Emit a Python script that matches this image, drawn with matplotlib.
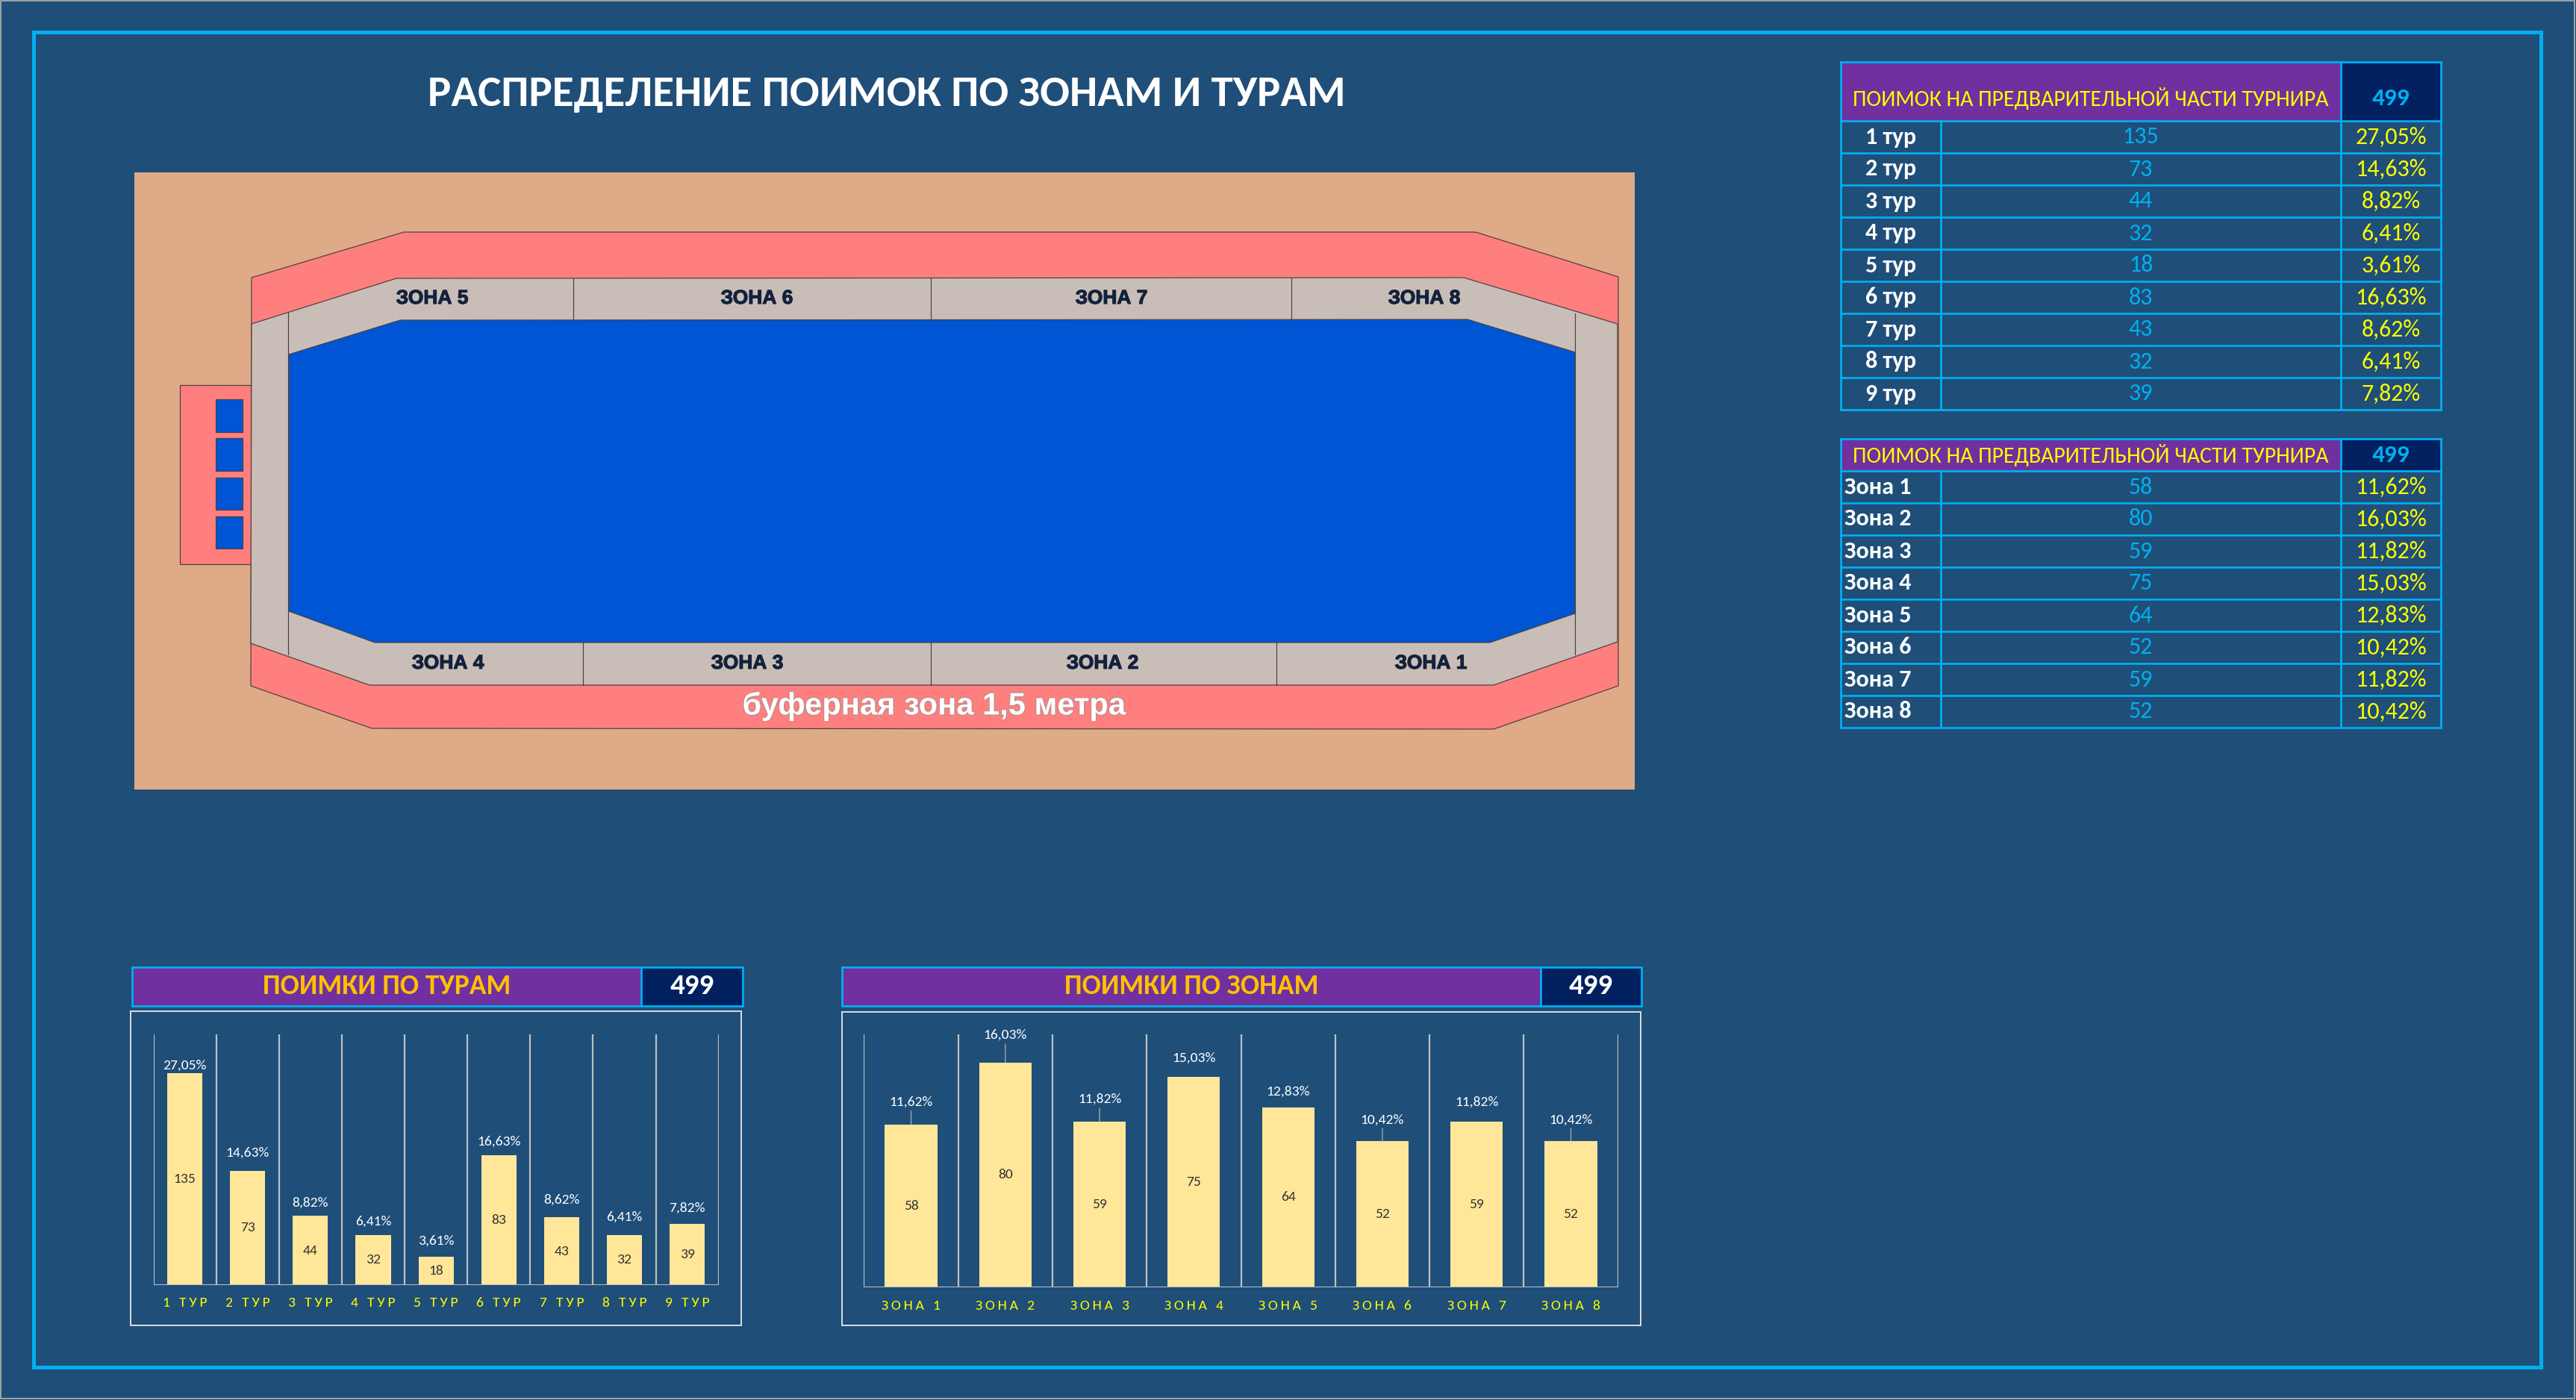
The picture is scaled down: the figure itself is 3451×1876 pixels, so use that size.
import numpy as np
import matplotlib
matplotlib.use('Agg')
import matplotlib.pyplot as plt
from matplotlib.patches import Rectangle, Polygon
import matplotlib.patheffects as pe
import matplotlib.font_manager as fm
from matplotlib.ft2font import FT2Font

# --- data ---
tour_names = ['1 тур', '2 тур', '3 тур', '4 тур', '5 тур', '6 тур', '7 тур', '8 тур', '9 тур']
tour_ticks = ['1 ТУР', '2 ТУР', '3 ТУР', '4 ТУР', '5 ТУР', '6 ТУР', '7 ТУР', '8 ТУР', '9 ТУР']
tour_catches = [135, 73, 44, 32, 18, 83, 43, 32, 39]

zone_names = ['Зона 1', 'Зона 2', 'Зона 3', 'Зона 4', 'Зона 5', 'Зона 6', 'Зона 7', 'Зона 8']
zone_ticks = ['ЗОНА 1', 'ЗОНА 2', 'ЗОНА 3', 'ЗОНА 4', 'ЗОНА 5', 'ЗОНА 6', 'ЗОНА 7', 'ЗОНА 8']
zone_catches = [58, 80, 59, 75, 64, 52, 59, 52]

total = sum(tour_catches)

# label gaps above bars (px) and which zone labels get a leader line
tour_gap = [11, 24, 18, 18, 21, 18, 24, 24, 21]
zone_gap = [30, 37, 30, 25, 21, 29, 26, 29]
zone_leader = [True, True, True, False, False, True, False, True]

# --- colours ---
BG = '#1F4E79'
CYAN = '#00B0F0'
PURPLE = '#7030A0'
NAVY = '#002060'
YELLOW = '#FFFF00'
ORANGE = '#FFC000'
BAR = '#FFE699'
GRID = '#BFBFBF'
TAN = '#DFAA88'
RED = '#FF7F7F'
STONE = '#C9BEB7'
WATER = '#0055D4'
EDGE = '#4A4040'


def has_cyr(name, weight='normal'):
    try:
        path = fm.findfont(fm.FontProperties(family=name, weight=weight), fallback_to_default=False)
        return ord('П') in FT2Font(path).get_charmap()
    except Exception:
        return False


CAL = next((f for f in ['Carlito', 'Lato', 'Roboto', 'Open Sans'] if has_cyr(f) and has_cyr(f, 'bold')), 'DejaVu Sans')
CALF = [CAL, 'DejaVu Sans']
ARF = ['Liberation Sans', 'DejaVu Sans']

W, H = 3451, 1876
DPI = 100
PX = 72 / DPI  # points per pixel

fig = plt.figure(figsize=(W / DPI, H / DPI), dpi=DPI, facecolor=BG)
bg = fig.add_axes([0, 0, 1, 1])
bg.set_xlim(0, W)
bg.set_ylim(H, 0)
bg.axis('off')


def rect(x0, y0, x1, y1, fc='none', ec='none', lw=0, z=1):
    bg.add_patch(Rectangle((x0, y0), x1 - x0, y1 - y0, facecolor=fc, edgecolor=ec,
                           linewidth=lw * PX, zorder=z))


def poly(pts, fc, z=2):
    bg.add_patch(Polygon(pts, closed=True, facecolor=fc, edgecolor=EDGE, linewidth=1.2 * PX, zorder=z))


def txt(x, y, s, size, color, weight='normal', ha='center', fam=None, **kw):
    bg.text(x, y, s, fontsize=size, color=color, fontweight=weight, ha=ha, va='center',
            family=fam or CALF, zorder=10, **kw)


def pct(v):
    return f'{v / total * 100:.2f}%'.replace('.', ',')


def spaced(s):
    # wide letter spacing like the Excel axis labels
    return '\u2009'.join(s)


# frames
rect(1, 1, W - 2, H - 2, ec='#A0A0A0', lw=2, z=0)
rect(44.5, 43, 3404, 1832, ec=CYAN, lw=5, z=0)

# title
txt(1188, 126, 'РАСПРЕДЕЛЕНИЕ ПОИМОК ПО ЗОНАМ И ТУРАМ', 42.5, 'white', 'bold')

# --- pond scheme ---
rect(180, 231, 2190, 1058, fc=TAN, z=1)
poly([(337, 372), (541, 311), (1977, 311), (2168, 371), (2168, 919), (2001, 977), (498, 976), (336, 919)], RED)
poly([(337, 434), (531, 373), (1961, 372), (2167, 434), (2167, 860), (2001, 918), (495, 918), (336, 862)], STONE, z=3)
poly([(387, 475), (536, 429), (1966, 428), (2110, 472), (2110, 822), (1996, 861), (502, 861), (387, 819)], WATER, z=4)
for x in [768, 1247, 1730]:
    bg.plot([x, x], [373, 429], color=EDGE, lw=1.2 * PX, zorder=5)
for x in [781, 1247, 1710]:
    bg.plot([x, x], [861, 918], color=EDGE, lw=1.2 * PX, zorder=5)
bg.plot([386, 386], [419, 877], color=EDGE, lw=1.2 * PX, zorder=5)
bg.plot([2110, 2110], [420, 877], color=EDGE, lw=1.2 * PX, zorder=5)
# stand on the left
rect(241, 516, 336, 756, fc=RED, ec=EDGE, lw=1.2, z=2)
for y0, y1 in [(535, 579), (587, 631), (640, 683), (692, 735)]:
    rect(289, y0, 325, y1, fc=WATER, ec=EDGE, lw=1.2, z=3)

pond_labels = [('ЗОНА 5', 579, 400), ('ЗОНА 6', 1014, 400), ('ЗОНА 7', 1489, 400), ('ЗОНА 8', 1908, 400),
               ('ЗОНА 4', 600, 889), ('ЗОНА 3', 1001, 889), ('ЗОНА 2', 1477, 889), ('ЗОНА 1', 1917, 889)]
for s, x, y in pond_labels:
    txt(x, y, s, 19, '#14213D', 'bold', fam=ARF,
        path_effects=[pe.withStroke(linewidth=0.8, foreground='#14213D')])
txt(1251, 946, 'буферная зона 1,5 метра', 30, 'white', 'bold', fam=ARF,
    path_effects=[pe.withStroke(linewidth=2, foreground='#C98A8A')])

# --- tables ---
cols = [2466, 2600, 3136, 3270]
HEAD_TXT = 'ПОИМОК НА ПРЕДВАРИТЕЛЬНОЙ ЧАСТИ ТУРНИРА'


def table(top, head_h, text_y, names, vals, label_ha):
    rect(cols[0], top, cols[2], top + head_h, fc=PURPLE, z=2)
    rect(cols[2], top, cols[3], top + head_h, fc=NAVY, z=2)
    txt((cols[0] + cols[2]) / 2, top + text_y, HEAD_TXT, 21.5, YELLOW)
    txt((cols[2] + cols[3]) / 2, top + text_y, str(total), 24, CYAN, 'bold')
    row_h = 43
    y = top + head_h
    for name, v in zip(names, vals):
        cy = y + row_h / 2
        if label_ha == 'center':
            txt((cols[0] + cols[1]) / 2, cy, name, 23, 'white', 'bold')
        else:
            txt(cols[0] + 5, cy, name, 23, 'white', 'bold', ha='left')
        txt((cols[1] + cols[2]) / 2, cy, str(v), 23, CYAN)
        txt((cols[2] + cols[3]) / 2, cy, pct(v), 23, YELLOW)
        y += row_h
    bottom = y
    lw = 2.7 * PX
    for yy in [top] + [top + head_h + i * row_h for i in range(len(names) + 1)]:
        bg.plot([cols[0], cols[3]], [yy, yy], color=CYAN, lw=lw, zorder=6, solid_capstyle='projecting')
    for i, xx in enumerate(cols):
        y0 = top if i in (0, 2, 3) else top + head_h
        bg.plot([xx, xx], [y0, bottom], color=CYAN, lw=lw, zorder=6)


table(83, 79, 49, tour_names, tour_catches, 'center')
table(588, 43, 22, zone_names, zone_catches, 'left')


# --- bar charts ---
def header(x0, xs, x1, y0, y1, title):
    rect(x0, y0, xs, y1, fc=PURPLE, z=2)
    rect(xs, y0, x1, y1, fc=NAVY, z=2)
    rect(x0, y0, x1, y1, ec=CYAN, lw=2.7, z=3)
    bg.plot([xs, xs], [y0, y1], color=CYAN, lw=2.7 * PX, zorder=3)
    txt((x0 + xs) / 2, (y0 + y1) / 2, title, 27, ORANGE, 'bold')
    txt((xs + x1) / 2, (y0 + y1) / 2, str(total), 28, 'white', 'bold')


def bar_chart(x0, x1, y_top, y_base, ymax, vals, ticks, width, gaps, leaders):
    ax = fig.add_axes([x0 / W, 1 - y_base / H, (x1 - x0) / W, (y_base - y_top) / H])
    ax.patch.set_alpha(0)
    n = len(vals)
    xs = np.arange(n)
    ax.bar(xs, vals, width=width, color=BAR, zorder=2)
    ax.vlines(np.arange(n + 1) - 0.5, 0, ymax, color=GRID, lw=1.6, zorder=1)
    ax.axhline(0, color=GRID, lw=2.2, zorder=3)
    ax.set_xlim(-0.5, n - 0.5)
    ax.set_ylim(0, ymax)
    for s in ax.spines.values():
        s.set_visible(False)
    ax.set_yticks([])
    ax.set_xticks(xs)
    ax.set_xticklabels([spaced(t) for t in ticks], color=YELLOW, fontsize=14, family=CALF)
    ax.tick_params(axis='x', length=0, pad=12)
    for i, v in enumerate(vals):
        ax.text(i, v / 2, str(v), ha='center', va='center', fontsize=14, color='#333333', family=CALF)
        arrow = dict(arrowstyle='-', color='#A6A6A6', lw=1, shrinkA=1, shrinkB=0) if leaders[i] else None
        ax.annotate(pct(v), xy=(i, v), xytext=(0, gaps[i] * PX), textcoords='offset points',
                    ha='center', va='center', fontsize=14, color='white', family=CALF, arrowprops=arrow)
    return ax


header(177, 859, 995, 1296, 1348, 'ПОИМКИ ПО ТУРАМ')
rect(175, 1355, 993, 1776, ec='#D9D9D9', lw=2, z=2)
bar_chart(205.5, 962.7, 1386, 1721.7, 160, tour_catches, tour_ticks, 0.56, tour_gap, [False] * 9)

header(1128, 2064, 2199, 1296, 1348, 'ПОИМКИ ПО ЗОНАМ')
rect(1128, 1356, 2198, 1776, ec='#D9D9D9', lw=2, z=2)
bar_chart(1157.4, 2167.6, 1386, 1725, 90, zone_catches, zone_ticks, 0.555, zone_gap, zone_leader)

fig.savefig('out.png', dpi=DPI, facecolor=BG)
